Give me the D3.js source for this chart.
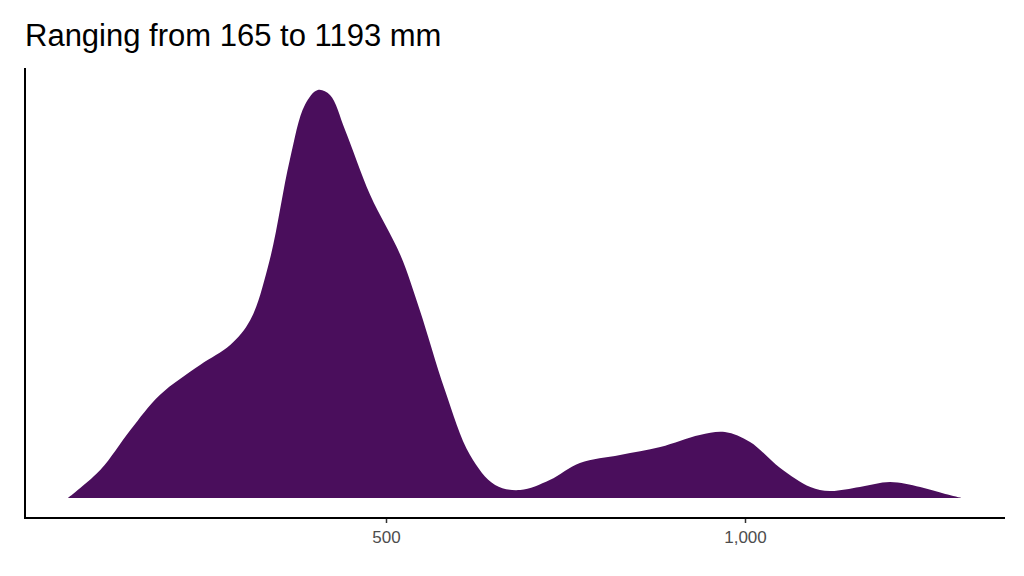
<!DOCTYPE html>
<html><head><meta charset="utf-8">
<script src="https://cdn.jsdelivr.net/npm/d3@7"></script>
<style>body{margin:0;background:#fff}</style>
</head><body>
<svg id="chart" width="1024" height="576"></svg>
<script>
// density curve (rainfall mm, density)
var rain = [57,102,144,185,241,283,311,338,366,387,405,422,443,478,520,547,582,617,652,687,728,770,826,882,937,972,1007,1049,1091,1118,1160,1202,1244,1279,1302];
var dens = [0,0.00028,0.00068,0.00103,0.00133,0.00153,0.00178,0.00238,0.00338,0.00393,0.00408,0.00403,0.00368,0.00303,0.00243,0.00188,0.00108,0.00043,0.00013,0.00008,0.00018,0.00035,0.00043,0.00051,0.00063,0.00066,0.00056,0.00030,0.00011,0.00007,0.00011,0.00016,0.00011,0.00004,0];
var xTicks = [500, 1000];

var svg = d3.select("#chart");
var x = d3.scaleLinear().domain([0, 500]).range([27, 386]);
var y = d3.scaleLinear().domain([0, 0.0043]).range([498, 68]);

var pts = rain.map(function(d, i){ return [d, dens[i]]; });
var area = d3.area()
  .x(function(d){ return x(d[0]); })
  .y0(y(0))
  .y1(function(d){ return y(d[1]); })
  .curve(d3.curveCatmullRom);

svg.append("path").datum(pts)
  .attr("d", area)
  .attr("fill", "#4a0e5c");

// axes
svg.append("line").attr("x1", 25).attr("x2", 25).attr("y1", 68).attr("y2", 519)
  .attr("stroke", "black").attr("stroke-width", 2);
var xAxis = d3.axisBottom(x).tickValues(xTicks).tickSize(5).tickPadding(8);
var gx = svg.append("g").attr("transform", "translate(0,518)").call(xAxis);
gx.select(".domain").remove();
gx.append("line").attr("x1", 24).attr("x2", 1005).attr("stroke", "black").attr("stroke-width", 2);
gx.selectAll(".tick line").attr("stroke", "#333").attr("stroke-width", 1.5);
gx.selectAll(".tick text").attr("fill", "#4d4d4d")
  .style("font-family", "Liberation Sans, Arial, sans-serif").style("font-size", "17px");

svg.append("text").text("Ranging from 165 to 1193 mm")
  .attr("x", 25).attr("y", 46)
  .style("font-family", "Liberation Sans, Arial, sans-serif")
  .style("font-size", "31px").attr("fill", "black");
</script>
</body></html>
